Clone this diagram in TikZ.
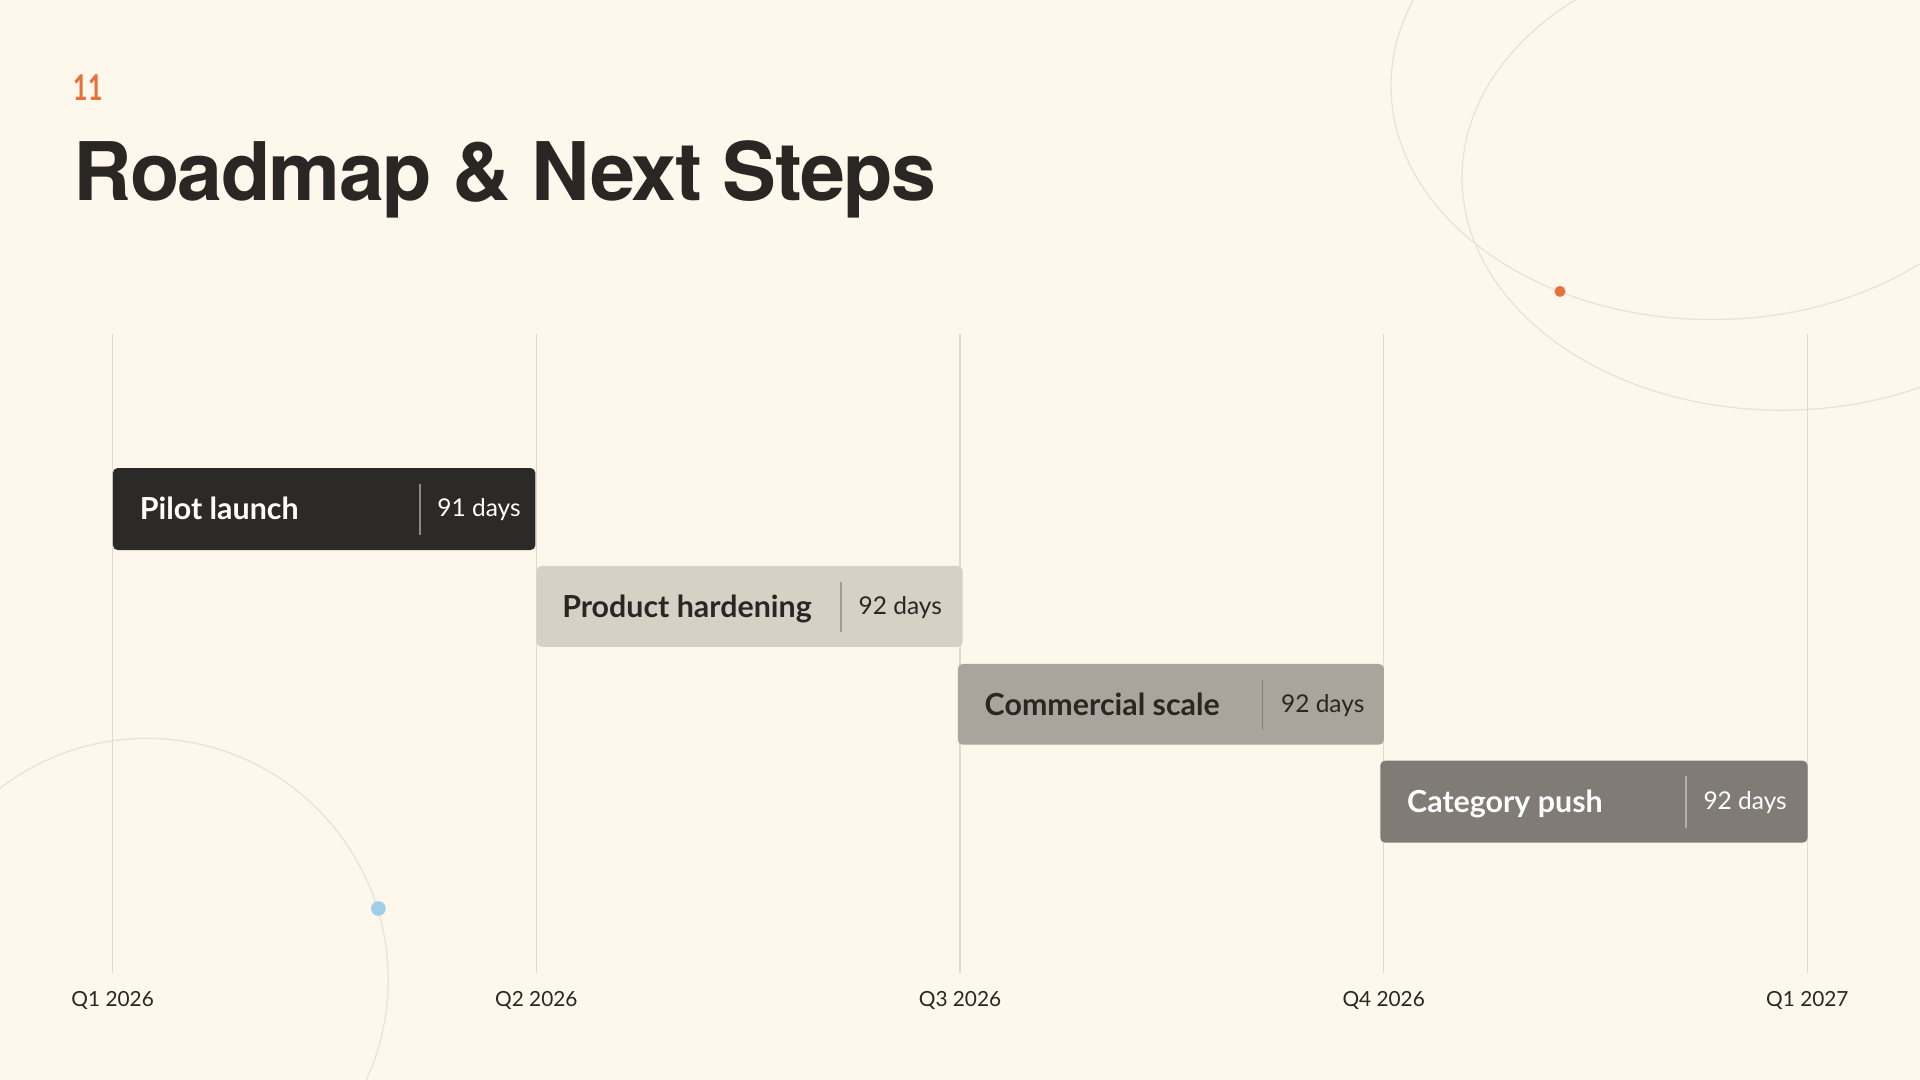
\documentclass[tikz,border=0pt]{standalone}
\usepackage{fontspec}
\setmainfont{Lato}
\newfontfamily\titlefont{TeX Gyre Heros}
\usetikzlibrary{positioning}
\definecolor{bgc}{HTML}{FEF7EB}
\definecolor{ink}{HTML}{2A2624}
\definecolor{accent}{HTML}{E8703A}
\definecolor{gridc}{HTML}{E0DAD0}
\definecolor{decor}{HTML}{EAE2D8}
\definecolor{barA}{HTML}{2B2A29}
\definecolor{barB}{HTML}{D6D0C5}
\definecolor{barC}{HTML}{A9A59C}
\definecolor{barD}{HTML}{807B75}
\definecolor{divA}{HTML}{8C8985}
\definecolor{divB}{HTML}{A29C92}
\definecolor{divC}{HTML}{858179}
\definecolor{divD}{HTML}{B3AFAA}
\definecolor{dotblue}{HTML}{9FCDEB}
\tikzset{
  gridline/.style={draw=gridc, line width=1.2pt},
  decorline/.style={draw=decor, line width=1pt},
  barbox/.style={rounded corners=4pt, inner sep=0pt, anchor=north west, minimum height=67pt},
  barlabel/.style={anchor=base west, inner sep=0pt, font=\fontsize{24.8}{28}\selectfont\bfseries},
  daylabel/.style={anchor=base west, inner sep=0pt, font=\fontsize{20}{24}\selectfont},
  qlabel/.style={anchor=base, inner sep=0pt, text=ink, font=\fontsize{17}{20}\selectfont},
  divline/.style={line width=1.5pt},
}
\begin{document}
\begin{tikzpicture}[x=1pt,y=-1pt]
\fill[bgc] (0,0) rectangle (1568,882);
\useasboundingbox (0,0) rectangle (1568,882);
% decorative shapes
\begin{scope}
\clip (0,0) rectangle (1568,882);
\draw[decorline] (1398,70) ellipse [x radius=262, y radius=191];
\draw[decorline] (1455,145) ellipse [x radius=261, y radius=190];
\draw[decorline] (120,800) circle [radius=197];
\end{scope}
\fill[accent] (1274,238) circle [radius=4.5];
\fill[dotblue] (309,742) circle [radius=6];
% header
\node[anchor=base west, inner sep=0pt, text=accent, font=\fontsize{29}{32}\selectfont\bfseries] (num) at (60,82) {\scalebox{0.7}[1]{11}};
\node[anchor=base west, inner sep=0pt, text=ink, font=\titlefont\fontsize{66}{70}\selectfont\bfseries\addfontfeature{LetterSpace=-2}] (title) at (60,164) {Roadmap \& Next Steps};
% grid lines
\foreach \x/\n/\t in {92/q1/Q1 2026, 438/q2/Q2 2026, 784/q3/Q3 2026, 1130/q4/Q4 2026, 1476/q5/Q1 2027}{
  \coordinate (\n top) at (\x,273);
  \coordinate (\n bot) at (\x,795);
  \draw[gridline] (\n top) -- (\n bot);
  \node[qlabel] (\n lab) at (\x,822) {\t};
}
% bars
\node[barbox, fill=barA, minimum width=345pt] (b1) at (92,382) {};
\node[barbox, fill=barB, minimum width=348pt, minimum height=66pt] (b2) at (438,462) {};
\node[barbox, fill=barC, minimum width=348pt, minimum height=66pt] (b3) at (782,542) {};
\node[barbox, fill=barD, minimum width=349pt] (b4) at (1127,621) {};
% dividers
\coordinate (d1t) at (343,395); \coordinate (d1b) at (343,437);
\coordinate (d2t) at (687,475); \coordinate (d2b) at (687,516);
\coordinate (d3t) at (1031,555); \coordinate (d3b) at (1031,596);
\coordinate (d4t) at (1377,634); \coordinate (d4b) at (1377,676);
\draw[divline, draw=divA] (d1t) -- (d1b);
\draw[divline, draw=divB] (d2t) -- (d2b);
\draw[divline, draw=divC] (d3t) -- (d3b);
\draw[divline, draw=divD] (d4t) -- (d4b);
% labels
\node[barlabel, text=white] (l1) at (114,424.5) {Pilot launch};
\node[daylabel, text=white] (t1) at (357,422) {91 days};
\node[barlabel, text=ink] (l2) at (459,504.5) {Product hardening};
\node[daylabel, text=ink] (t2) at (701,502) {92 days};
\node[barlabel, text=ink] (l3) at (804,584) {Commercial scale};
\node[daylabel, text=ink] (t3) at (1046,581.5) {92 days};
\node[barlabel, text=white] (l4) at (1149,663.5) {Category push};
\node[daylabel, text=white] (t4) at (1391,661) {92 days};
\end{tikzpicture}
\end{document}
